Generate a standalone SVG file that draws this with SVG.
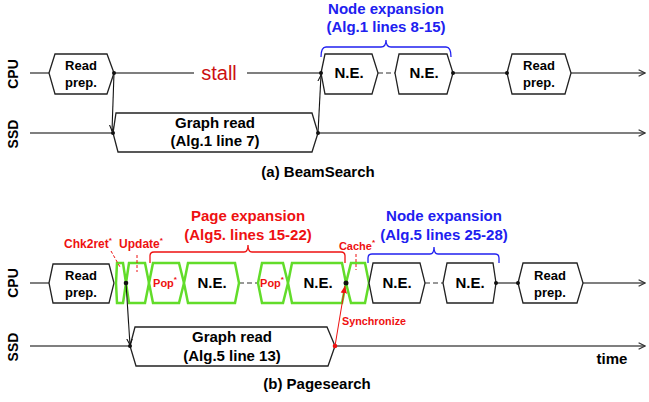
<svg xmlns="http://www.w3.org/2000/svg" width="649" height="402" viewBox="0 0 649 402">
<style>
text{font-family:"Liberation Sans",Arial,sans-serif;font-weight:bold;text-anchor:middle}
.hex{fill:#fff;stroke:#222;stroke-width:1.3}
.g{fill:#fff;stroke:#62dc2a;stroke-width:2.5}
.ln{stroke:#555;stroke-width:1.5;fill:none}
.dash{stroke:#777;stroke-width:1.5;stroke-dasharray:5,3;fill:none}
.ar{stroke:#111;stroke-width:1.1;fill:none}
.blue{fill:#2020f0}
.red{fill:#ee1111}
.br{fill:none;stroke-width:1.3}
.lbl{font-size:14px}
.t13{font-size:13px}
.t15{font-size:15px}
.sm{font-size:12px}
.st{font-size:8px}
.rd{stroke:#ee1111;stroke-width:1;stroke-dasharray:3,2;fill:none}
</style>
<defs>
<marker id="ah" viewBox="0 0 10 10" refX="9" refY="5" markerWidth="7" markerHeight="7" orient="auto" markerUnits="userSpaceOnUse"><path d="M0,1 L9,5 L0,9" fill="none" stroke="#111" stroke-width="1.5"/></marker>
<marker id="ahr" viewBox="0 0 10 10" refX="9" refY="5" markerWidth="8" markerHeight="8" orient="auto" markerUnits="userSpaceOnUse"><path d="M0,1 L9,5 L0,9 z" fill="#ee1111"/></marker>
<marker id="axis" viewBox="0 0 10 10" refX="9" refY="5" markerWidth="8" markerHeight="8" orient="auto" markerUnits="userSpaceOnUse"><path d="M1,1 L9,5 L1,9" fill="none" stroke="#333" stroke-width="1.5"/></marker>
</defs>

<!-- axis labels -->
<g id="labels">
<text class="lbl" transform="translate(18,74) rotate(-90)">CPU</text>
<text class="lbl" transform="translate(18,134) rotate(-90)">SSD</text>
<text class="lbl" transform="translate(18,283) rotate(-90)">CPU</text>
<text class="lbl" transform="translate(18,347) rotate(-90)">SSD</text>
<text class="t15" x="318" y="177">(a) BeamSearch</text>
<text class="t15" x="317" y="389">(b) Pagesearch</text>
<text class="t15" x="612" y="364">time</text>
</g>

<!-- connectors -->
<g id="connectors">
<!-- (a) -->
<line class="ln" x1="30" y1="73" x2="49" y2="73"/>
<line class="ln" x1="114" y1="73" x2="194" y2="73"/>
<line class="ln" x1="247" y1="73" x2="321" y2="73"/>
<line class="dash" x1="378" y1="73" x2="395" y2="73"/>
<line class="ln" x1="453" y1="73" x2="507" y2="73"/>
<line class="ln" x1="571" y1="73" x2="645" y2="73" marker-end="url(#axis)"/>
<line class="ln" x1="30" y1="133" x2="113" y2="133"/>
<line class="ln" x1="318" y1="133" x2="645" y2="133" marker-end="url(#axis)"/>
<line class="ar" x1="114" y1="73" x2="112" y2="131" marker-end="url(#ah)"/>
<line class="ar" x1="318" y1="133" x2="321" y2="75" marker-end="url(#ah)"/>
<!-- (b) -->
<line class="ln" x1="30" y1="283" x2="49" y2="283"/>
<line class="dash" x1="239" y1="283" x2="258" y2="283"/>
<line class="dash" x1="425" y1="283" x2="443" y2="283"/>
<line class="ln" x1="496" y1="283" x2="518" y2="283"/>
<line class="ln" x1="583" y1="283" x2="645" y2="283" marker-end="url(#axis)"/>
<line class="ln" x1="30" y1="346" x2="130" y2="346"/>
<line class="ln" x1="335" y1="346" x2="645" y2="346" marker-end="url(#axis)"/>
</g>

<!-- (a) nodes -->
<g id="a-readprep1">
<polygon class="hex" points="49,73 55,54 107,54 114,73 107,94 55,94"/>
<text class="t13" x="81" y="70">Read</text>
<text class="t13" x="81" y="87">prep.</text>
</g>
<g id="a-stall"><text x="219" y="80" style="font-size:20px;font-weight:normal;fill:#cc1111">stall</text></g>
<g id="a-graphread">
<polygon class="hex" points="113,133 116,113 312,113 318,133 312,152 118,152"/>
<text class="t15" x="215" y="128">Graph read</text>
<text class="t15" x="215" y="146">(Alg.1 line 7)</text>
</g>
<g id="a-ne1">
<polygon class="hex" points="321,73 325,54 372,54 378,73 372,94 325,94"/>
<text class="t15" x="349" y="78">N.E.</text>
</g>
<g id="a-ne2">
<polygon class="hex" points="395,73 399,54 447,54 453,73 447,94 399,94"/>
<text class="t15" x="424" y="78">N.E.</text>
</g>
<g id="a-readprep2">
<polygon class="hex" points="507,73 512,54 565,54 571,73 565,94 512,94"/>
<text class="t13" x="539" y="70">Read</text>
<text class="t13" x="539" y="87">prep.</text>
</g>
<g id="a-nodeexp">
<path class="br" stroke="#2020f0" d="M321,57 Q321,47 326,47 L381,47 Q386,47 386,40 Q386,47 391,47 L446,47 Q451,47 451,57"/>
<text class="t15 blue" x="386" y="14">Node expansion</text>
<text class="t15 blue" x="386" y="32">(Alg.1 lines 8-15)</text>
</g>

<!-- (b) nodes -->
<g id="b-readprep1">
<polygon class="hex" points="49,283 53,264 109,264 114,283 109,303 53,303"/>
<text class="t13" x="81" y="280">Read</text>
<text class="t13" x="81" y="297">prep.</text>
</g>
<g id="b-chk2ret">
<polygon class="g" points="116,283 117,263 123,263 126,283 123,303 117,303"/>
<text class="sm red" x="88" y="248">Chk2ret<tspan class="st" dy="-5">*</tspan></text>
<line class="rd" x1="111" y1="251" x2="120" y2="267"/>
</g>
<g id="b-update">
<polygon class="g" points="126,283 129,263 145,263 149,283 145,303 129,303"/>
<text class="sm red" x="141" y="248">Update<tspan class="st" dy="-5">*</tspan></text>
<line class="rd" x1="137" y1="255" x2="137" y2="272"/>
</g>
<g id="b-pop1">
<polygon class="g" points="149,283 153,263 179,263 184,283 179,303 153,303"/>
<text class="red" x="165" y="287" style="font-size:11px">Pop<tspan class="st" dy="-5">*</tspan></text>
</g>
<g id="b-ne1">
<polygon class="g" points="184,283 188,263 235,263 239,283 235,303 188,303"/>
<text class="t15" x="212" y="288">N.E.</text>
</g>
<g id="b-pop2">
<polygon class="g" points="258,283 262,263 283,263 288,283 283,303 262,303"/>
<text class="red" x="272" y="287" style="font-size:11px">Pop<tspan class="st" dy="-5">*</tspan></text>
</g>
<g id="b-ne2">
<polygon class="g" points="288,283 292,263 342,263 346,283 342,303 292,303"/>
<text class="t15" x="318" y="288">N.E.</text>
</g>
<g id="b-cache">
<polygon class="g" points="346,283 351,263 365,263 369,283 365,303 351,303"/>
<text class="red" x="357" y="250" style="font-size:11px">Cache<tspan class="st" dy="-5">*</tspan></text>
<line class="rd" x1="356" y1="254" x2="356" y2="270"/>
</g>
<g id="b-ne3">
<polygon class="hex" points="369,283 373,263 420,263 425,283 420,303 373,303"/>
<text class="t15" x="397" y="288">N.E.</text>
</g>
<g id="b-ne4">
<polygon class="hex" points="443,283 447,263 493,263 496,283 493,303 447,303"/>
<text class="t15" x="470" y="288">N.E.</text>
</g>
<g id="b-readprep2">
<polygon class="hex" points="518,283 523,263 577,263 583,283 577,303 523,303"/>
<text class="t13" x="550" y="280">Read</text>
<text class="t13" x="550" y="297">prep.</text>
</g>
<g id="b-graphread">
<polygon class="hex" points="130,346 135,327 327,327 335,346 328,366 136,366"/>
<text class="t15" x="232" y="342">Graph read</text>
<text class="t15" x="232" y="361">(Alg.5 line 13)</text>
</g>
<g id="b-pageexp">
<path class="br" stroke="#ee1111" d="M150,263 L150,256 Q150,252 154,252 L244,252 Q248,252 248,245 Q248,252 252,252 L341,252 Q345,252 345,256 L345,263"/>
<text class="t15 red" x="248" y="221">Page expansion</text>
<text class="t15 red" x="248" y="240">(Alg5. lines 15-22)</text>
</g>
<g id="b-nodeexp">
<path class="br" stroke="#2020f0" d="M368,263 L368,258 Q368,254 372,254 L430,254 Q434,254 434,247 Q434,254 438,254 L495,254 Q499,254 499,258 L499,263"/>
<text class="t15 blue" x="444" y="221">Node expansion</text>
<text class="t15 blue" x="444" y="240">(Alg.5 lines 25-28)</text>
</g>

<!-- (b) arrows and sync -->
<g id="b-arrows">
<line class="ar" x1="126" y1="283" x2="130" y2="345" marker-end="url(#ah)"/>
<line x1="335" y1="346" x2="345" y2="286" stroke="#ee1111" stroke-width="1" marker-end="url(#ahr)"/>
<text class="red" x="374" y="325" style="font-size:11px" textLength="64" lengthAdjust="spacingAndGlyphs">Synchronize</text>
</g>

<!-- dots -->
<g id="dots" fill="#111">
<circle cx="114" cy="73" r="2"/>
<circle cx="113" cy="133" r="2"/>
<circle cx="318" cy="133" r="2"/>
<circle cx="321" cy="73" r="2"/>
<circle cx="453" cy="73" r="2"/>
<circle cx="507" cy="73" r="2"/>
<circle cx="126" cy="283" r="2.3"/>
<circle cx="130" cy="346" r="2"/>
<circle cx="346" cy="283" r="2.5"/>
<circle cx="496" cy="283" r="2"/>
<circle cx="518" cy="283" r="2"/>
<circle cx="335" cy="346" r="2.3" fill="#ee1111"/>
</g>
</svg>
